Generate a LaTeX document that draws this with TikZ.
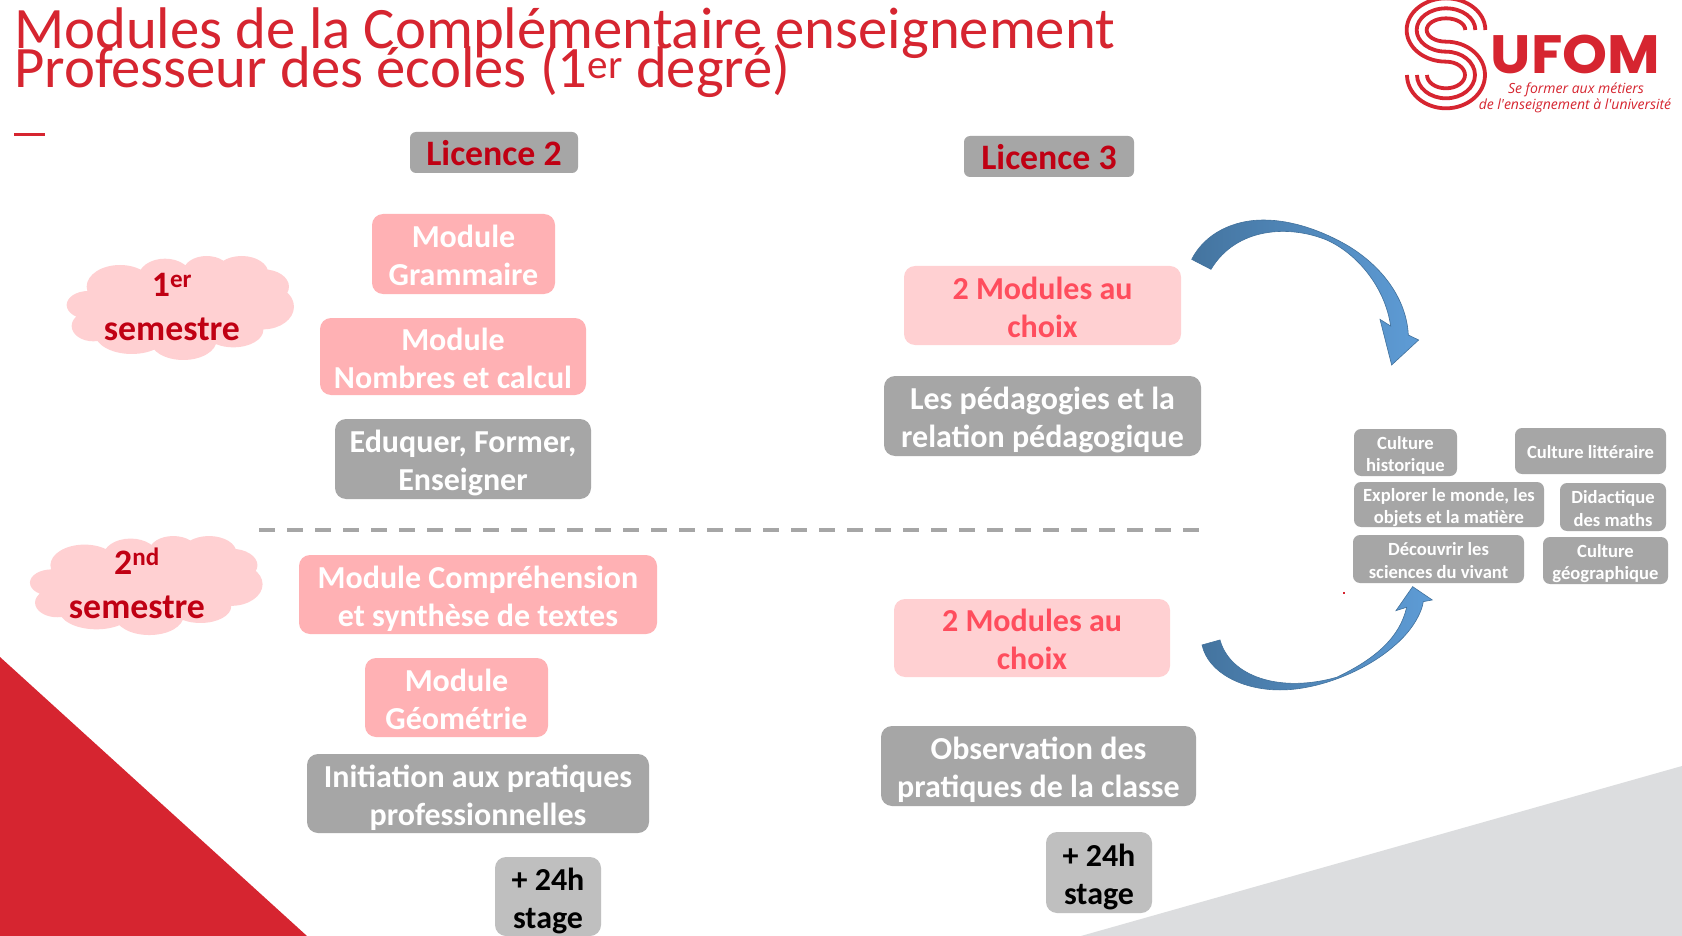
\documentclass[tikz,border=0pt]{standalone}
\usepackage{fontspec}
\setmainfont{Carlito}
\newfontfamily\logofont{Poppins}
\newfontfamily\tagfont{Open Sans}
\definecolor{ured}{HTML}{D62530}
\definecolor{dred}{HTML}{C00013}
\definecolor{pinkA}{HTML}{FFB1B4}
\definecolor{pinkB}{HTML}{FFD0D2}
\definecolor{greyA}{HTML}{A6A6A6}
\definecolor{greyB}{HTML}{BFBFBF}
\definecolor{corner}{HTML}{DCDDDF}
\definecolor{roseT}{HTML}{FF4D5D}
\definecolor{arrD}{HTML}{44749F}
\definecolor{arrL}{HTML}{5E9CD6}
\definecolor{arrE}{HTML}{41719C}
\newcommand{\txtdrop}{0}
\tikzset{
  textdrop/.code={\renewcommand{\txtdrop}{#1}},
  basebox/.style={inner sep=0pt},
  bigbox/.style={basebox,rounded corners=11pt,textdrop=-6.4,font=\fontsize{32}{38}\selectfont\bfseries},
  pinkbox/.style={bigbox,fill=pinkA,text=white},
  rosebox/.style={bigbox,fill=pinkB,text=roseT},
  greybox/.style={bigbox,fill=greyA,text=white},
  stagebox/.style={bigbox,fill=greyB,text=black},
  licbox/.style={basebox,rounded corners=6pt,fill=greyA,text=dred,textdrop=13,font=\fontsize{35.8}{38}\selectfont\bfseries},
  minibox/.style={basebox,rounded corners=7pt,fill=greyA,text=white,textdrop=-3.5,font=\fontsize{18.6}{22.5}\selectfont\bfseries},
  minisingle/.style={minibox,textdrop=7.5},
  cloudtext/.style={align=center,text=dred,inner sep=0pt,font=\fontsize{35.8}{44}\selectfont\bfseries},
  titletext/.style={anchor=west,inner sep=0pt,text=ured,font=\fontsize{58.7}{58}\selectfont},
  logoS/.style={draw=ured,line width=3.8pt},
  bendarrow/.style={shade,left color=arrD,right color=arrL,draw=arrE,line width=0.6pt},
}
\newcommand{\bx}[7]{%
  \pgfmathsetmacro{\cxx}{(#3+#5)/2}\pgfmathsetmacro{\cyy}{(#4+#6)/2}%
  \pgfmathsetmacro{\wdd}{#5-#3}\pgfmathsetmacro{\htt}{#6-#4}%
  \node[#2,minimum width=\wdd pt,minimum height=\htt pt] (#1) at (\cxx,\cyy)
    {\raisebox{-\txtdrop pt}[0pt][0pt]{\begin{tabular}[t]{@{}c@{}}#7\end{tabular}}};}
\newcommand{\cloudblobs}{%
  \fill[pinkB] (300,140) ellipse [x radius=100,y radius=65]
    (435,112) ellipse [x radius=80,y radius=56]
    (560,95) ellipse [x radius=70,y radius=47]
    (665,100) ellipse [x radius=80,y radius=52]
    (730,140) ellipse [x radius=77,y radius=52]
    (730,200) ellipse [x radius=92,y radius=68]
    (640,270) ellipse [x radius=90,y radius=52]
    (490,300) ellipse [x radius=100,y radius=60]
    (335,280) ellipse [x radius=110,y radius=62]
    (220,258) ellipse [x radius=65,y radius=46]
    (205,195) ellipse [x radius=65,y radius=42]
    (480,200) ellipse [x radius=280,y radius=110];}
\begin{document}
\begin{tikzpicture}[x=1pt,y=-1pt]
\useasboundingbox (0,0) rectangle (1682,936);
\fill[white] (0,0) rectangle (1682,936);
% corners
\fill[ured] (0,657) -- (307,936) -- (0,936) -- cycle;
\fill[corner] (1081,936) -- (1682,766) -- (1682,936) -- cycle;
% title
\node[titletext] (t1) at (14,33) {Modules de la Complémentaire enseignement};
\node[titletext] (t2) at (14,71) {Professeur des écoles (1\textsuperscript{er} degré)};
\fill[ured] (14,133) rectangle (45,136);
% logo
\begin{scope}[shift={(1340,0)},x=0.3333pt,y=-0.3333pt]
  \draw[logoS] (436,90) arc [start angle=0,end angle=-270,x radius=118,y radius=95]
     arc [start angle=-90,end angle=180,x radius=57,y radius=40];
  \draw[logoS] (406,90) arc [start angle=0,end angle=-270,x radius=88,y radius=65]
     arc [start angle=-90,end angle=180,x radius=87,y radius=70];
  \draw[logoS] (376,90) arc [start angle=0,end angle=-270,x radius=58,y radius=35]
     arc [start angle=-90,end angle=180,x radius=117,y radius=100];
\end{scope}
\node[inner sep=0pt,text=ured,font=\logofont\fontsize{54}{54}\selectfont\bfseries] (ufom) at (1575.5,54) {\scalebox{1.06}[1]{UFOM}};
\node[inner sep=0pt,text=ured,font=\tagfont\itshape\fontsize{14}{16}\selectfont] (tag1) at (1576,89.5) {Se former aux métiers};
\node[inner sep=0pt,text=ured,font=\tagfont\itshape\fontsize{14}{16}\selectfont] (tag2) at (1575,106) {de l'enseignement à l'université};
% clouds
\begin{scope}[shift={(20,240)},x=0.3333pt,y=-0.3333pt]\cloudblobs\end{scope}
\begin{scope}[shift={(-17.8,520.8)},x=0.3411pt,y=-0.3173pt]\cloudblobs\end{scope}
\node[cloudtext] (c1) at (172,307) {1\textsuperscript{er}\\semestre};
\node[cloudtext] (c2) at (137,583) {2\textsuperscript{nd}\\semestre};
% headers
\bx{l2}{licbox}{410}{132}{578}{173}{Licence 2}
\bx{l3}{licbox}{964}{136}{1134}{177}{Licence 3}
% L2
\bx{a1}{pinkbox}{372}{214}{555}{294}{Module\\Grammaire}
\bx{a2}{pinkbox}{320}{318}{586}{395}{Module\\Nombres et calcul}
\bx{a3}{greybox}{335}{419}{591}{499}{Eduquer, Former,\\Enseigner}
\bx{a4}{pinkbox}{299}{555}{657}{634}{Module Compréhension\\et synthèse de textes}
\bx{a5}{pinkbox}{365}{658}{548}{737}{Module\\Géométrie}
\bx{a6}{greybox}{307}{754}{649}{833}{Initiation aux pratiques\\professionnelles}
\bx{a7}{stagebox}{495}{857}{601}{936}{+ 24h\\stage}
% L3
\bx{b1}{rosebox}{904}{266}{1181}{345}{2 Modules au\\choix}
\bx{b2}{greybox}{884}{376}{1201}{456}{Les pédagogies et la\\relation pédagogique}
\bx{b3}{rosebox}{894}{599}{1170}{677}{2 Modules au\\choix}
\bx{b4}{greybox}{881}{726}{1196}{806}{Observation des\\pratiques de la classe}
\bx{b5}{stagebox}{1046}{832}{1152}{913}{+ 24h\\stage}
% small
\bx{m1}{minibox}{1354}{429}{1457}{476}{Culture\\historique}
\bx{m2}{minisingle}{1515}{428}{1666}{474}{Culture littéraire}
\bx{m3}{minibox}{1354}{482}{1544}{527}{Explorer le monde, les\\objets et la matière}
\bx{m4}{minibox}{1560}{483}{1666}{531}{Didactique\\des maths}
\bx{m5}{minibox}{1353}{535}{1524}{583}{Découvrir les\\sciences du vivant}
\bx{m6}{minibox}{1543}{537}{1668}{584}{Culture\\géographique}
% dashed separator
\coordinate (sepL) at (259,530);
\coordinate (sepR) at (1199,530);
\draw[greyA,line width=3.6pt,dash pattern=on 16pt off 12pt] (sepL) -- (sepR);
% arrows
\begin{scope}[shift={(1180,200)},x=0.3333pt,y=-0.3333pt]
  \path[bendarrow] (35,178) .. controls (75,100) and (160,60) .. (250,60)
     .. controls (340,60) and (430,95) .. (500,135)
     .. controls (610,200) and (680,300) .. (685,405)
     -- (716,420) -- (635,495) -- (600,358) -- (632,378)
     .. controls (615,260) and (530,160) .. (440,120)
     .. controls (330,75) and (170,80) .. (93,208) -- cycle;
  \path[bendarrow] (66,1335) .. controls (85,1420) and (190,1470) .. (300,1470)
     .. controls (420,1470) and (560,1410) .. (640,1340)
     .. controls (695,1295) and (725,1240) .. (730,1205)
     -- (757,1200) -- (698,1160) -- (648,1232) -- (680,1222)
     .. controls (660,1310) and (590,1375) .. (470,1432)
     .. controls (300,1480) and (150,1430) .. (120,1320) -- cycle;
\end{scope}
\fill[ured] (1343,592) rectangle (1345,594);
\end{tikzpicture}
\end{document}
